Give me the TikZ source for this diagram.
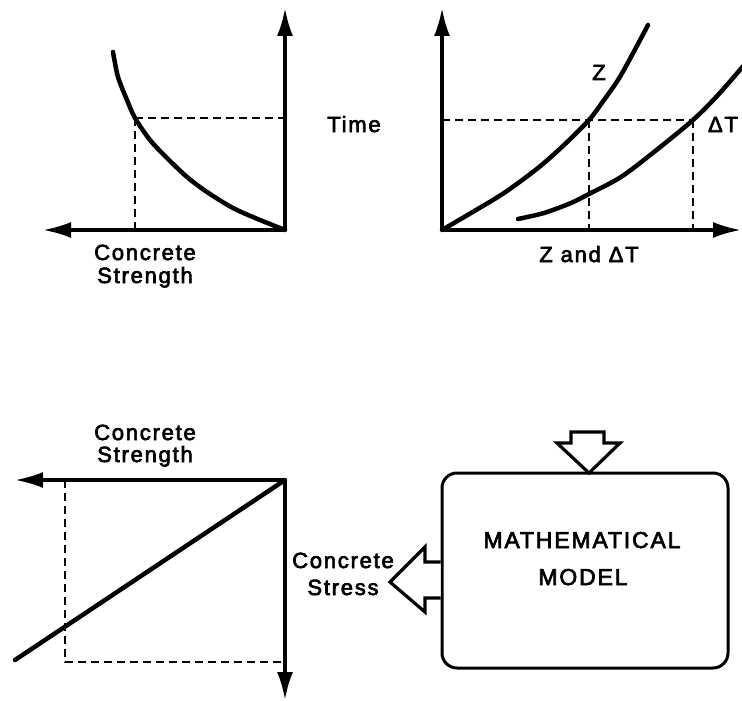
\documentclass[tikz,border=0pt]{standalone}
\usepackage{fontspec}
\setmainfont{Liberation Sans}[LetterSpace=8,FakeBold=3]
\usetikzlibrary{arrows.meta}
\begin{document}
\begin{tikzpicture}[x=1pt,y=-1pt,
  axis/.style={line width=3.2pt,-{Latex[length=28pt,width=16pt]}},
  curve/.style={line width=4.5pt,line cap=round},
  guide/.style={line width=2.5pt,dash pattern=on 8pt off 5pt},
  lbl/.style={inner sep=0pt,anchor=base,font=\fontsize{22}{26}\selectfont},
  biglbl/.style={inner sep=0pt,anchor=base,font=\fontsize{23}{27}\selectfont},
  hollow/.style={line width=3.2pt,fill=white,line join=miter}]
\useasboundingbox (0,0) rectangle (742,701);

% ---------- top-left graph ----------
\coordinate (o1) at (285,230);
\coordinate (t1) at (285,8);
\coordinate (s1) at (43,230);
\coordinate (p1) at (135,118);
\draw[guide] (p1) -- (p1 -| o1);
\draw[guide] (p1) -- (p1 |- o1);
\draw[axis] (o1) -- (t1);
\draw[axis] (o1) -- (s1);
\draw[curve] plot[smooth] coordinates {(113,52)(118,77)(127,100)(135,118)(150,140)(167,158)(187,177)(207,192)(233,208)(260,220)(285,230)};
\node[lbl] (cs1a) at (145,260) {Concrete};
\node[lbl] (cs1b) at (145,283) {Strength};
\node[lbl] (time) at (354,132) {Time};

% ---------- top-right graph ----------
\coordinate (o2) at (442,230);
\coordinate (t2) at (442,8);
\coordinate (r2) at (741,230);
\coordinate (pz) at (589,120);
\coordinate (pt) at (693,120);
\draw[guide] (o2 |- pz) -- (pt);
\draw[guide] (pz) -- (pz |- o2);
\draw[guide] (pt) -- (pt |- o2);
\draw[axis] (o2) -- (t2);
\draw[axis] (o2) -- (r2);
\draw[curve] plot[smooth] coordinates {(442,230)(471,213)(504,193)(538,168)(564,145)(589,120)(604,100)(618,80)(631,57)(648,25)};
\draw[curve] plot[smooth] coordinates {(518,219)(544,213)(571,203)(589,194)(621,177)(654,152)(693,120)(718,95)(745,64)};
\node[lbl] (zl) at (599,80) {Z};
\node[lbl] (dtl) at (723,132) {ΔT};
\node[lbl] (zdt) at (589,262) {Z and ΔT};

% ---------- bottom-left graph ----------
\coordinate (o3) at (285,480);
\coordinate (s3) at (15,480);
\coordinate (d3) at (285,700);
\coordinate (q3) at (65,662);
\draw[guide] (q3 |- o3) -- (q3) -- (q3 -| o3);
\draw[axis] (o3) -- (s3);
\draw[axis] (o3) -- (d3);
\draw[curve] (o3) -- (15,660);
\node[lbl] (cs3a) at (145,440) {Concrete};
\node[lbl] (cs3b) at (145,462) {Strength};

% ---------- model box ----------
\node[draw,line width=3pt,rounded corners=15pt,minimum width=286pt,minimum height=195pt,inner sep=0pt] (model) at (585,570.5) {};
\node[biglbl] (m1) at (582,548) {MATHEMATICAL};
\node[biglbl] (m2) at (583,585) {MODEL};

% hollow input arrow (top)
\draw[hollow] (571,432) -- (604,432) -- (604,443) -- (620,443) -- (589,473) -- (557,443) -- (571,443) -- cycle;
% hollow output arrow (left)
\draw[hollow] (model.west |- 0,562) -- (425,562) -- (425,547) -- (390,582) -- (425,612) -- (425,598) -- (model.west |- 0,598);
\node[lbl] (st1) at (343,568) {Concrete};
\node[lbl] (st2) at (343,595) {Stress};
\end{tikzpicture}
\end{document}
